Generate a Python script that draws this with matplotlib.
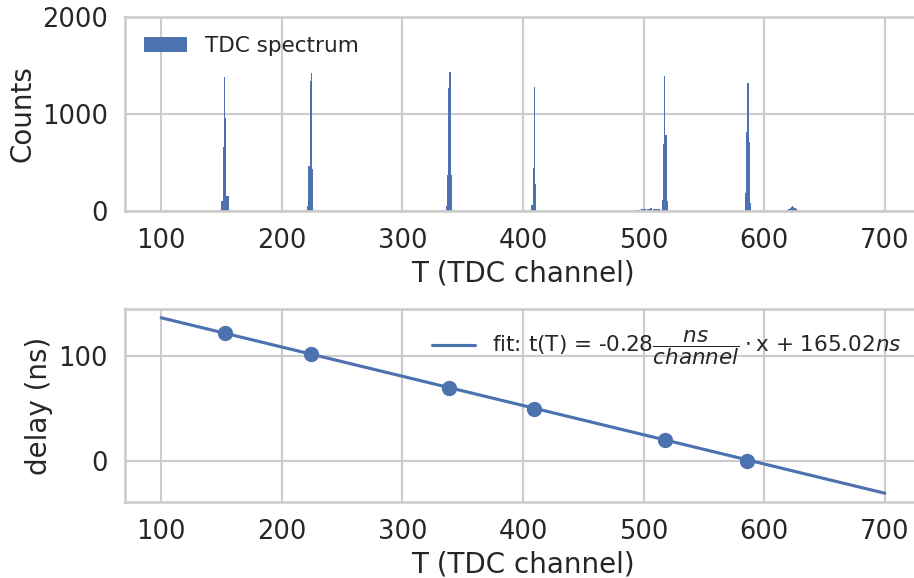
import numpy as np
import matplotlib
matplotlib.use("Agg")
import matplotlib.pyplot as plt
import seaborn as sns

# ---- data ----
tdc_channel = [150, 151, 152, 153, 154, 155,
               221, 222, 223, 224, 225, 226,
               336, 337, 338, 339, 340, 341,
               407, 408, 409, 410,
               494, 495, 496, 498, 499, 500, 501, 503, 504, 505, 506,
               508, 509, 510, 511, 512, 513,
               515, 516, 517, 518, 519,
               584, 585, 586, 587, 588,
               619, 620, 621, 622, 623, 624, 625, 626, 627]
tdc_counts = [107, 661, 1384, 958, 153, 153,
              55, 463, 1345, 1421, 428, 12,
              55, 366, 1264, 1432, 366, 10,
              63, 439, 1282, 279,
              15, 15, 15, 18, 18, 18, 18, 18, 18, 35, 35,
              18, 18, 18, 18, 18, 25,
              115, 690, 1393, 784, 98,
              185, 811, 1316, 707, 87,
              10, 20, 35, 45, 50, 45, 35, 20, 10]

peak_channel = [153, 224, 339, 409, 518, 586]
delay_ns = [122, 102, 70, 50, 20, 0]

fit_slope = -0.28
fit_intercept = 165.02
fit_range = [100, 700]

# ---- style ----
sns.set_theme(style="whitegrid", context="talk")
plt.rcParams["font.family"] = ["DejaVu Sans"]
plt.rcParams["xtick.labelsize"] = 18.5
plt.rcParams["ytick.labelsize"] = 18.5
plt.rcParams["axes.labelsize"] = 20
plt.rcParams["legend.fontsize"] = 15.5
blue = sns.color_palette("deep")[0]

fig = plt.figure(figsize=(9.14, 5.78), dpi=100)
W, H = 914, 578
ax1 = fig.add_axes([125 / W, 1 - 211 / H, 796 / W, 194 / H])
ax2 = fig.add_axes([125 / W, 1 - 502 / H, 796 / W, 193 / H])

edges = np.arange(70, 731)
ax1.hist(np.array(tdc_channel) + 0.5, bins=edges, weights=tdc_counts,
         color=blue, edgecolor="none", linewidth=0, label="TDC spectrum")
ax1.set_xlim(70, 730)
ax1.set_ylim(0, 2000)
ax1.set_yticks([0, 1000, 2000])
ax1.set_xticks([100, 200, 300, 400, 500, 600, 700])
ax1.set_xlabel("T (TDC channel)")
ax1.set_ylabel("Counts")
ax1.legend(loc="upper left", frameon=False)

x = np.array(fit_range, dtype=float)
ax2.plot(x, fit_slope * x + fit_intercept, color=blue, lw=2.25,
         label=r"fit: t(T) = -0.28$\dfrac{ns}{channel}\cdot$x + 165.02$ns$")
ax2.plot(peak_channel, delay_ns, "o", color=blue, ms=10)
ax2.set_xlim(70, 730)
ax2.set_yticks([0, 100])
ax2.set_xticks([100, 200, 300, 400, 500, 600, 700])
ax2.set_xlabel("T (TDC channel)")
ax2.set_ylabel("delay (ns)")
ax2.legend(loc="upper right", frameon=False)

fig.savefig("out.png", dpi=100)
